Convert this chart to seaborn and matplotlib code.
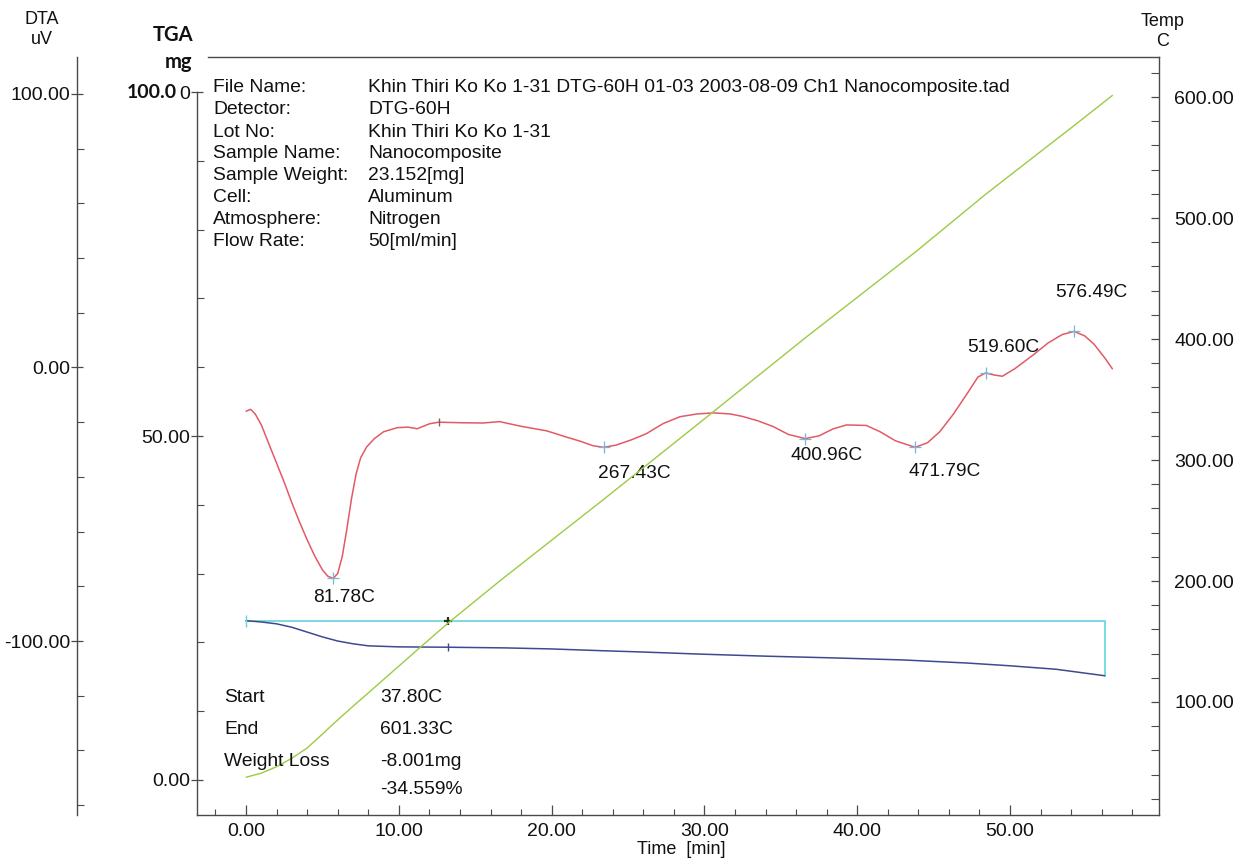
import numpy as np
import matplotlib
matplotlib.use("Agg")
import matplotlib.pyplot as plt
import matplotlib.transforms as mtransforms
from matplotlib.ticker import MultipleLocator, FixedLocator, FixedFormatter
import seaborn as sns

# ---- measured curves -------------------------------------------------------
# Temperature program: time [min] -> sample temperature [C]
temp_time = [0.0, 1.0, 2.0, 3.0, 4.0, 5.0, 5.7, 7.0, 8.0, 11.2, 13.2, 16.6,
             23.4, 30.0, 36.6, 43.8, 48.4, 54.2, 56.7]
temp_c = [37.80, 41.2, 46.5, 53.5, 62.0, 73.5, 81.78, 96.5, 107.5, 143.0,
          165.0, 200.0, 267.43, 334.0, 400.96, 471.79, 519.60, 576.49, 601.33]

# DTA signal [uV]
dta_time = [0.0, 0.3, 0.6, 1.0, 1.5, 2.0, 2.5, 3.0, 3.5, 4.0, 4.5, 5.0, 5.35,
            5.7, 6.0, 6.3, 6.6, 6.9, 7.2, 7.5, 7.9, 8.4, 9.0, 9.9, 10.6, 11.2,
            12.0, 12.6, 14.0, 15.5, 16.6, 18.0, 19.7, 21.0, 21.9, 22.7, 23.4,
            24.2, 25.2, 26.2, 27.3, 28.4, 29.5, 30.6, 31.7, 32.5, 33.5, 34.5,
            35.5, 36.6, 37.5, 38.4, 39.3, 40.6, 41.5, 42.5, 43.8, 44.6, 45.4,
            46.3, 47.2, 47.9, 48.4, 49.0, 49.5, 50.3, 51.5, 52.5, 53.4, 54.2,
            54.9, 55.5, 56.2, 56.7]
dta_uv = [-16.0, -15.3, -17.0, -21.0, -28.0, -35.0, -42.0, -49.5, -56.5, -63.0,
          -69.0, -74.0, -76.3, -77.1, -75.3, -69.0, -59.0, -48.0, -39.0, -33.0,
          -29.0, -26.0, -23.5, -22.0, -21.8, -22.4, -20.6, -20.0, -20.2, -20.3,
          -19.8, -21.5, -23.2, -25.5, -27.0, -28.6, -29.2, -28.4, -26.5, -24.2,
          -20.5, -18.0, -17.0, -16.6, -17.0, -17.9, -19.5, -21.6, -24.5, -26.0,
          -25.0, -22.5, -21.0, -21.2, -23.5, -26.8, -29.2, -27.5, -23.5, -17.0,
          -9.5, -3.5, -2.0, -2.8, -3.2, -0.5, 4.5, 9.0, 12.0, 13.2, 11.5, 8.5,
          3.5, -0.5]

# TGA mass [mg]
tga_time = [0.0, 1.0, 2.0, 3.0, 4.0, 5.0, 6.0, 7.0, 8.0, 10.0, 13.2, 17.0,
            20.0, 23.2, 26.0, 29.7, 34.0, 38.4, 43.0, 47.2, 50.0, 53.0, 56.2]
tga_mg = [23.152, 22.97, 22.7, 22.2, 21.5, 20.8, 20.2, 19.8, 19.5, 19.35,
          19.3, 19.2, 19.05, 18.8, 18.6, 18.3, 18.0, 17.75, 17.45, 17.0, 16.6,
          16.1, 15.151]

sample_weight_mg = 23.152
weight_loss_mg = 8.001
weight_loss_pct = -34.559
start_temp_c = 37.80
end_temp_c = 601.33
analysis_end_min = 56.2
analysis_mark_min = 13.2

# DTA peak temperatures and label offsets (pixels)
peak_c = [81.78, 267.43, 400.96, 471.79, 519.60, 576.49]
peak_label_offset = [(-20, -19), (-6, -26), (-15, -17), (-7, -24), (-18, 25), (-19, 39)]

info_keys = ["File Name:", "Detector:", "Lot No:", "Sample Name:", "Sample Weight:",
             "Cell:", "Atmosphere:", "Flow Rate:"]
info_values = ["Khin Thiri Ko Ko 1-31 DTG-60H 01-03 2003-08-09 Ch1 Nanocomposite.tad",
               "DTG-60H", "Khin Thiri Ko Ko 1-31", "Nanocomposite",
               f"{sample_weight_mg:.3f}[mg]", "Aluminum", "Nitrogen", "50[ml/min]"]

x_ticks = [0, 10, 20, 30, 40, 50]
tga_ticks = [0, 50, 100]
dta_ticks = [-100, 0, 100]
temp_ticks = [100, 200, 300, 400, 500, 600]

# ---- styling ---------------------------------------------------------------
sns.set_theme(style="white")
plt.rcParams["font.family"] = ["Liberation Sans", "DejaVu Sans"]

W, H = 1236, 859
RED = "#e25a66"
GREEN = "#9ccb44"
NAVY = "#3d4a8e"
CYAN = "#62d6de"
MARK = "#7cb4d6"
AXC = "#4a4a4a"
TXT = "#111111"

fig = plt.figure(figsize=(W / 100, H / 100), dpi=100)
fig.patch.set_facecolor("white")


def fx(px):
    return px / W


def fy(py):
    return 1 - py / H


L, R, T, B = 197, 1159, 57, 815
ax = fig.add_axes([fx(L), fy(B), (R - L) / W, (B - T) / H])
ax.set_facecolor("none")

# TGA on the host axes
ax.set_xlim(-3.21, 59.75)
ax.set_ylim(-5.09, 105.1)
sns.lineplot(x=tga_time, y=tga_mg, ax=ax, color=NAVY, linewidth=1.1,
             estimator=None, sort=False, zorder=3)
# analysis range frame
ax.plot([0, analysis_end_min, analysis_end_min],
        [sample_weight_mg, sample_weight_mg, sample_weight_mg - weight_loss_mg],
        color=CYAN, linewidth=1.2, zorder=2)
ax.plot([0], [sample_weight_mg], marker="|", color=CYAN, markersize=8, zorder=4)
ax.plot([analysis_mark_min], [sample_weight_mg], marker="+", color="#223322",
        markersize=6, markeredgewidth=1.6, zorder=4)
ax.plot([analysis_mark_min], [np.interp(analysis_mark_min, tga_time, tga_mg)],
        marker="|", color=NAVY, markersize=6, zorder=4)

for side in ["left", "right", "top", "bottom"]:
    ax.spines[side].set_color(AXC)
    ax.spines[side].set_linewidth(1.0)
ax.spines["left"].set_bounds(-5.09, 100)
ax.spines["top"].set_bounds(-2.5, 59.75)
ax.spines["right"].set_visible(False)

ax.xaxis.set_major_locator(FixedLocator(x_ticks))
ax.xaxis.set_major_formatter(FixedFormatter([f"{v:.2f}" for v in x_ticks]))
ax.xaxis.set_minor_locator(MultipleLocator(2))
ax.tick_params(axis="x", which="major", direction="in", length=7, width=0.9,
               color=AXC, labelsize=14, pad=6, labelcolor=TXT, bottom=True)
ax.tick_params(axis="x", which="minor", direction="in", length=4, width=0.8,
               color=AXC, bottom=True)

ax.yaxis.set_major_locator(FixedLocator(tga_ticks))
ax.yaxis.set_major_formatter(FixedFormatter(["0.00", "50.00", "0"]))
ax.yaxis.set_minor_locator(MultipleLocator(10))
ax.tick_params(axis="y", which="major", direction="inout", length=8, width=0.9,
               color=AXC, labelsize=14, pad=1, labelcolor=TXT, left=True)
ax.tick_params(axis="y", which="minor", direction="in", length=5, width=0.8,
               color=AXC, left=True)
ax.set_xlabel("")
ax.set_ylabel("")

# DTA on an offset left axis
ax_d = ax.twinx()
ax_d.set_ylim(-163.6, 113.5)
sns.lineplot(x=dta_time, y=dta_uv, ax=ax_d, color=RED, linewidth=1.1,
             estimator=None, sort=False, zorder=3)
ax_d.spines["right"].set_visible(False)
ax_d.spines["top"].set_visible(False)
ax_d.spines["bottom"].set_visible(False)
ax_d.spines["left"].set_visible(True)
ax_d.spines["left"].set_position(("axes", (77 - L) / (R - L)))
ax_d.spines["left"].set_color(AXC)
ax_d.spines["left"].set_linewidth(1.0)
ax_d.yaxis.set_ticks_position("left")
ax_d.yaxis.set_label_position("left")
ax_d.yaxis.set_major_locator(FixedLocator(dta_ticks))
ax_d.yaxis.set_major_formatter(FixedFormatter([f"{v:.2f}" for v in dta_ticks]))
ax_d.yaxis.set_minor_locator(MultipleLocator(20))
ax_d.tick_params(axis="y", which="major", direction="inout", length=8, width=0.9,
                 color=AXC, labelsize=14, pad=1, labelcolor=TXT, left=True, right=False)
ax_d.tick_params(axis="y", which="minor", direction="in", length=5, width=0.8,
                 color=AXC, left=True, right=False)
ax_d.set_ylabel("")

# peak markers and temperature labels
peak_t = np.interp(peak_c, temp_c, temp_time)
peak_v = np.interp(peak_t, dta_time, dta_uv)
sns.scatterplot(x=peak_t, y=peak_v, ax=ax_d, marker="+", s=70, color=MARK,
                linewidth=0.9, zorder=5)
for t, v, c, (dx, dy) in zip(peak_t, peak_v, peak_c, peak_label_offset):
    ax_d.annotate(f"{c:.2f}C", xy=(t, v), xytext=(dx, dy), textcoords="offset pixels",
                  ha="left", va="center", fontsize=13.8, color=TXT)
ax_d.plot([12.6], [np.interp(12.6, dta_time, dta_uv)], marker="|", color="#8a5a66",
          markersize=6, zorder=5)

# Temperature on the right axis
ax_t = ax.twinx()
ax_t.set_ylim(6.6, 633.1)
sns.lineplot(x=temp_time, y=temp_c, ax=ax_t, color=GREEN, linewidth=1.0,
             estimator=None, sort=False, zorder=3)
for side in ["left", "top", "bottom"]:
    ax_t.spines[side].set_visible(False)
ax_t.spines["right"].set_color(AXC)
ax_t.spines["right"].set_linewidth(1.0)
ax_t.yaxis.set_major_locator(FixedLocator(temp_ticks))
ax_t.yaxis.set_major_formatter(FixedFormatter([f"{v:.2f}" for v in temp_ticks]))
ax_t.yaxis.set_minor_locator(MultipleLocator(20))
ax_t.tick_params(axis="y", which="major", direction="in", length=6, width=0.9,
                 color=AXC, labelsize=14, pad=11, labelcolor=TXT, right=True, left=False)
ax_t.tick_params(axis="y", which="minor", direction="in", length=6, width=0.8,
                 color=AXC, right=True, left=False)
ax_t.set_ylabel("")

for a in (ax, ax_d, ax_t):
    leg = a.get_legend()
    if leg is not None:
        leg.remove()

# bold TGA top value drawn beside the last regular digit
trans = mtransforms.blended_transform_factory(ax.transAxes, ax.transData)
ax.text((177 - L) / (R - L), 100, "100.0", transform=trans, ha="right", va="center",
        fontsize=14, fontweight="bold", family=["Lato", "DejaVu Sans"], color=TXT)

# axis titles
fig.text(fx(42), fy(20), "DTA", ha="center", va="center", fontsize=13, color=TXT)
fig.text(fx(42), fy(40), "uV", ha="center", va="center", fontsize=13, color=TXT)
fig.text(fx(193), fy(35), "TGA", ha="right", va="center", fontsize=14.5,
         fontweight="bold", family=["Lato", "DejaVu Sans"], color=TXT)
fig.text(fx(192), fy(62), "mg", ha="right", va="center", fontsize=14.5,
         fontweight="bold", family=["Lato", "DejaVu Sans"], color=TXT)
fig.text(fx(1163), fy(22), "Temp", ha="center", va="center", fontsize=13, color=TXT)
fig.text(fx(1163), fy(42), "C", ha="center", va="center", fontsize=13, color=TXT)
fig.text(fx(681), fy(850), "Time  [min]", ha="center", va="center", fontsize=13, color=TXT)

# measurement information
for i, (k, v) in enumerate(zip(info_keys, info_values)):
    y = fy(88 + 22 * i)
    fig.text(fx(213), y, k, ha="left", va="center", fontsize=13.9, color=TXT)
    fig.text(fx(368), y, v, ha="left", va="center", fontsize=13.9, color=TXT)

summary = [("Start", f"{start_temp_c:.2f}C", 697),
           ("End", f"{end_temp_c:.2f}C", 729),
           ("Weight Loss", f"-{weight_loss_mg:.3f}mg", 762),
           ("", f"{weight_loss_pct:.3f}%", 789)]
for k, v, y in summary:
    fig.text(fx(224), fy(y), k, ha="left", va="center", fontsize=13.9, color=TXT)
    fig.text(fx(380), fy(y), v, ha="left", va="center", fontsize=13.9, color=TXT)

fig.savefig("out.png", dpi=100, facecolor="white")
